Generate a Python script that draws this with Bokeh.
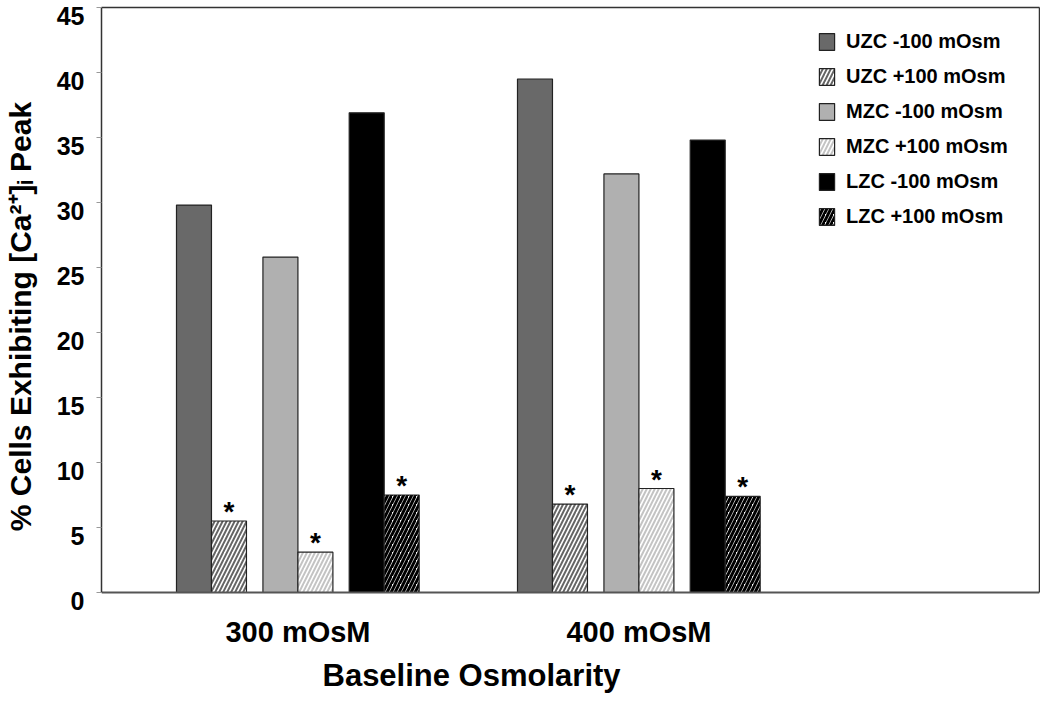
from bokeh.plotting import figure
from bokeh.models import (ColumnDataSource, FixedTicker, Legend, LegendItem,
                          LinearAxis, Range1d, Title)
from bokeh.core.properties import value
from bokeh.embed import file_html
from bokeh.resources import INLINE

# ---- data ----
categories = ["300 mOsM", "400 mOsM"]
series_names = ["UZC -100 mOsm", "UZC +100 mOsm", "MZC -100 mOsm",
                "MZC +100 mOsm", "LZC -100 mOsm", "LZC +100 mOsm"]
uzc_minus = [29.8, 39.5]
uzc_plus = [5.5, 6.8]
mzc_minus = [25.8, 32.2]
mzc_plus = [3.1, 8.0]
lzc_minus = [36.9, 34.8]
lzc_plus = [7.5, 7.4]
significant = [False, True, False, True, False, True]  # asterisk marks
y_ticks = [0, 5, 10, 15, 20, 25, 30, 35, 40, 45]

series_values = [uzc_minus, uzc_plus, mzc_minus, mzc_plus, lzc_minus, lzc_plus]

FONT = "Liberation Sans"
X_START, X_END = 0.4238, 3.1745
Y_START, Y_END = 0, 45
shift = 8 / 13.0   # tick numbers sit ~8 px below their ticks in the original

p = figure(width=1040, height=698, output_backend="svg", toolbar_location=None,
           x_range=(X_START, X_END), y_range=(Y_START - shift, Y_END),
           min_border_left=101, min_border_right=1, min_border_top=7,
           min_border_bottom=98)
p.background_fill_color = "white"
p.border_fill_color = "white"
p.outline_line_color = None
p.xgrid.visible = False
p.ygrid.visible = False

# style per series (positions / styles kept separate from data)
bar_w = 0.1026
offsets = [-0.305, -0.2024, -0.0515, 0.0511, 0.2015, 0.3041]
styles = [
    dict(fill_color="#696969"),
    dict(fill_color="white", hatch_pattern="/", hatch_color="#666666", hatch_weight=2, hatch_scale=8),
    dict(fill_color="#b0b0b0"),
    dict(fill_color="white", hatch_pattern="/", hatch_color="#c4c4c4", hatch_weight=2, hatch_scale=8),
    dict(fill_color="black"),
    dict(fill_color="white", hatch_pattern="/", hatch_color="black", hatch_weight=3, hatch_scale=8),
]

group_pos = [i + 1 for i in range(len(categories))]
items = []
star_x, star_y = [], []
for name, vals, off, st, sig in zip(series_names, series_values, offsets, styles, significant):
    src = ColumnDataSource(dict(x=[g + off for g in group_pos], top=vals))
    r = p.vbar(x="x", top="top", bottom=Y_START, width=bar_w, source=src,
               line_color="#222222", line_width=1.2, **st)
    items.append(LegendItem(label=name, renderers=[r]))
    if sig:
        star_x += [g + off for g in group_pos]
        star_y += vals

star_src = ColumnDataSource(dict(x=star_x, y=star_y, t=["*"] * len(star_x)))
p.text(x="x", y="y", text="t", source=star_src, text_align="center",
       text_baseline="bottom", y_offset=6, text_font=value(FONT),
       text_font_style="bold", text_font_size="28px", text_color="black")

legend = Legend(items=items, location=(716, 372))
legend.border_line_color = None
legend.background_fill_alpha = 0
legend.padding = 0
legend.margin = 0
legend.spacing = 12
legend.glyph_width = 19
legend.glyph_height = 21
legend.label_height = 21
legend.label_standoff = 10
legend.label_text_font = FONT
legend.label_text_font_style = "bold"
legend.label_text_font_size = "20px"
legend.label_text_color = "black"
p.add_layout(legend, "center")


def bare_line(ax, color="#333333", width=1.5):
    ax.ticker = FixedTicker(ticks=[])
    ax.major_tick_out = 0
    ax.major_tick_in = 0
    ax.minor_tick_out = 0
    ax.minor_tick_in = 0
    ax.major_label_standoff = 0
    ax.axis_line_color = color
    ax.axis_line_width = width
    return ax


# x axis line drawn on the zero line
xa = bare_line(p.below[0], color="#555555", width=2)
xa.fixed_location = Y_START

# x category labels on a separate axis below the frame
xlab = LinearAxis(ticker=FixedTicker(ticks=group_pos))
xlab.major_label_overrides = {g: c for g, c in zip(group_pos, categories)}
xlab.major_tick_line_color = None
xlab.major_tick_out = 0
xlab.minor_tick_line_color = None
xlab.minor_tick_out = 0
xlab.axis_line_color = None
xlab.major_label_standoff = 15
xlab.major_label_text_font = FONT
xlab.major_label_text_font_style = "bold"
xlab.major_label_text_font_size = "29px"
xlab.major_label_text_color = "black"
p.add_layout(xlab, "below")

# x axis title, placed left of centre as in the original
xtitle = Title(text="Baseline Osmolarity", align="left", offset=221,
               text_font=FONT, text_font_style="bold", text_font_size="31px",
               text_color="black", standoff=10)
p.add_layout(xtitle, "below")

# y axis: ticks and line on the main axis
ya = p.left[0]
ya.bounds = (Y_START, Y_END)
ya.ticker = FixedTicker(ticks=y_ticks)
ya.major_label_overrides = {t: "" for t in y_ticks}
ya.minor_tick_line_color = None
ya.major_tick_in = 0
ya.major_tick_out = 5
ya.major_tick_line_color = "#999999"
ya.axis_line_color = "#333333"
ya.axis_line_width = 1.5
ya.major_label_standoff = 0

# tick numbers on a twin axis shifted a few pixels down
p.extra_y_ranges = {"lab": Range1d(start=Y_START, end=Y_END + shift)}
lab = LinearAxis(y_range_name="lab", ticker=FixedTicker(ticks=y_ticks))
lab.major_tick_line_color = None
lab.major_tick_out = 0
lab.minor_tick_line_color = None
lab.minor_tick_out = 0
lab.axis_line_color = None
lab.major_label_standoff = 12
lab.major_label_text_font = FONT
lab.major_label_text_font_style = "bold"
lab.major_label_text_font_size = "25px"
lab.major_label_text_color = "black"
lab.axis_label = "% Cells Exhibiting [Ca²⁺]ᵢ Peak" + "\u00a0" * 3
lab.axis_label_text_font = FONT
lab.axis_label_text_font_style = "bold"
lab.axis_label_text_font_size = "30px"
lab.axis_label_text_color = "black"
lab.axis_label_standoff = 17
p.add_layout(lab, "left")

# top and right frame lines
p.add_layout(bare_line(LinearAxis()), "above")
p.add_layout(bare_line(LinearAxis(bounds=(Y_START, Y_END))), "right")

open("out.html", "w").write(file_html(p, INLINE))
